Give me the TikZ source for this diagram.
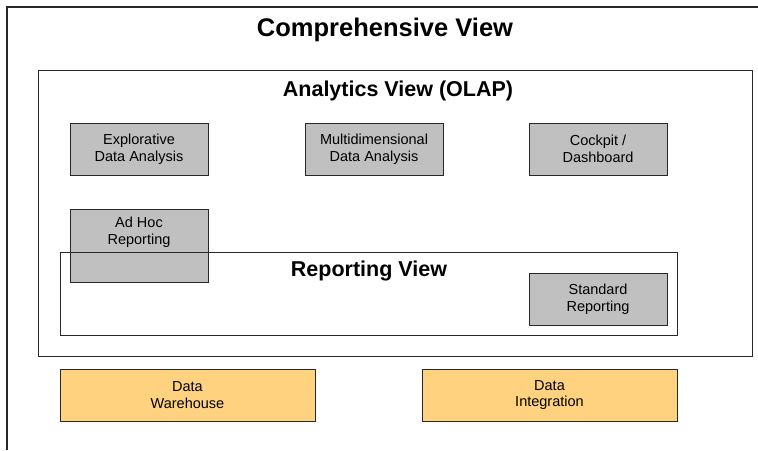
\documentclass[tikz,border=0pt]{standalone}
\usepackage{fontspec}
\setmainfont{Liberation Sans}
\definecolor{boxgray}{RGB}{192,192,192}
\definecolor{dworange}{RGB}{255,210,128}
\definecolor{edge}{RGB}{40,40,40}
\begin{document}
\begin{tikzpicture}[x=1pt,y=-1pt,
  frame/.style={draw=edge,line width=1pt},
  boxtext/.style={align=center,font=\fontsize{14.5}{16.5}\selectfont,inner sep=0pt},
  tool/.style={boxtext,draw=edge,line width=0.9pt,fill=boxgray,minimum width=138pt,minimum height=52pt},
  base/.style={boxtext,draw=edge,line width=0.9pt,fill=dworange,minimum width=255pt,minimum height=52pt},
  title/.style={font=\bfseries\fontsize{#1}{#1}\selectfont,anchor=base}]
\useasboundingbox (0,0) rectangle (758,450);
% outer frame (only top and left edges visible)
\draw[draw=edge,line width=1.6pt] (7,450) -- (7,7) -- (758,7);
\node[title=25.5] (comp) at (385,36) {Comprehensive View};
% analytics frame
\node[frame,minimum width=714pt,minimum height=286pt,inner sep=0pt,anchor=north west] (olap) at (38,70) {};
\node[title=21.5] (olapt) at (398,96) {Analytics View (OLAP)};
% analytics tools
\node[tool] (explo) at (139,149) {Explorative\\Data Analysis};
\node[tool] (multi) at (374,149) {Multidimensional\\Data Analysis};
\node[tool] (cockpit) at (598,149) {Cockpit /\\Dashboard};
\node[tool,minimum height=73pt,anchor=north] (adhoc) at (139,209) {};
\node[boxtext] (adhoct) at (139,232) {Ad Hoc\\Reporting};
% reporting frame drawn over the ad hoc box
\node[frame,minimum width=617pt,minimum height=83pt,inner sep=0pt,anchor=north west] (report) at (60,252) {};
\node[title=21.5] (reportt) at (369,276) {Reporting View};
\node[tool] (std) at (598,299) {Standard\\Reporting};
% base layer
\node[base] (dw) at (187.5,395) {Data\\Warehouse};
\node[base] (di) at (549.5,395) {Data\\Integration};
\end{tikzpicture}
\end{document}
